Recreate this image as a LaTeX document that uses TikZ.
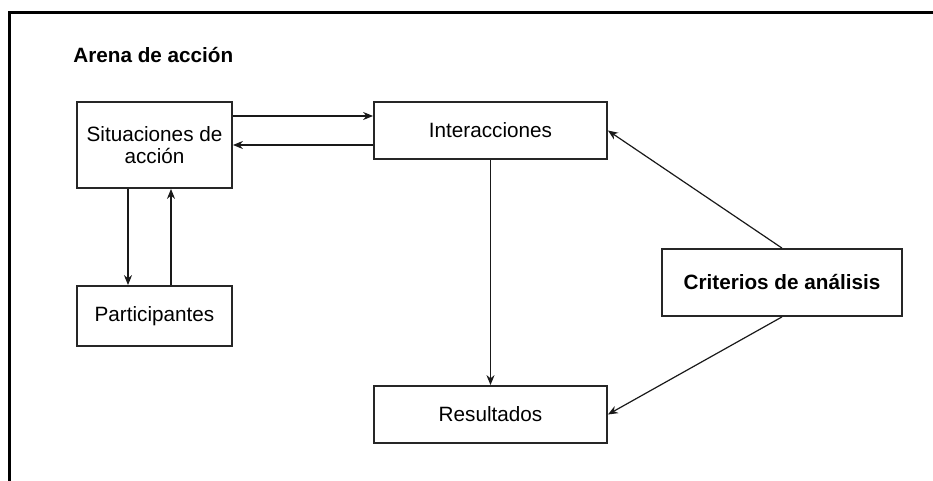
\documentclass[tikz,border=0pt]{standalone}
\usepackage{fontspec}
\setmainfont{Liberation Sans}
\usetikzlibrary{arrows.meta}
\begin{document}
\begin{tikzpicture}[x=0.5pt,y=-0.5pt,
  box/.style={draw=black!85,line width=0.9pt,inner sep=0pt,align=center,font=\fontsize{10.35}{11}\selectfont},
  arr/.style={line width=0.6pt,draw=black!90,-{Stealth[length=5pt,width=4pt]}},
  frame/.style={line width=1.5pt}]
\useasboundingbox (0,0) rectangle (933,481);
\coordinate (tl) at (9,13);
\coordinate (tr) at (933,13);
\coordinate (bl) at (9,481);
\draw[frame] (tr) -- (tl) -- (bl);
\node[anchor=base west,inner sep=0pt,font=\fontsize{10.35}{11}\selectfont\bfseries] (title) at (73,63) {Arena de acción};
\node[box,minimum width=77.5pt,minimum height=43pt] (sit) at (154.5,145) {Situaciones de\\acción};
\node[box,minimum width=77.5pt,minimum height=30pt] (par) at (154.5,316) {Participantes};
\node[box,minimum width=116.5pt,minimum height=28.5pt] (int) at (490.5,130.5) {Interacciones};
\node[box,minimum width=116.5pt,minimum height=28.5pt] (res) at (490.5,414.5) {Resultados};
\node[box,minimum width=120pt,minimum height=33.5pt,font=\fontsize{10.35}{11}\selectfont\bfseries] (crit) at (782,282.5) {Criterios de análisis};
\coordinate (a1) at ([yshift=14.5pt]sit.east);
\draw[arr] (a1) -- (a1 -| int.west);
\draw[arr] (sit.east -| int.west) -- (sit.east);
\coordinate (d1) at ([xshift=-13.25pt]sit.south);
\draw[arr] (d1) -- (d1 |- par.north);
\coordinate (u1) at ([xshift=8.25pt]par.north);
\draw[arr] (u1) -- (u1 |- sit.south);
\draw[arr] (int.south) -- (res.north);
\draw[arr] (crit.north) -- (int.east);
\draw[arr] (crit.south) -- (res.east);
\end{tikzpicture}
\end{document}
